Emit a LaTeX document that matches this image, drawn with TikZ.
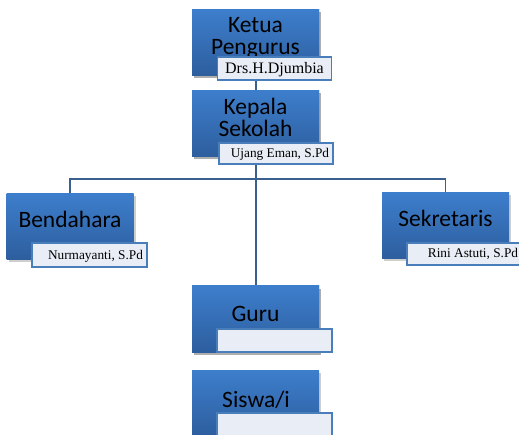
\documentclass[tikz,border=0pt]{standalone}
\usepackage{fontspec}
\newfontfamily\titlefont{Carlito}
\newfontfamily\namefont{Liberation Serif}
\usetikzlibrary{shadows}
\definecolor{boxtop}{HTML}{3D7ECC}
\definecolor{boxbot}{HTML}{2D5E9E}
\definecolor{lblfill}{HTML}{E9EEF6}
\definecolor{lbldraw}{HTML}{4A7EBB}
\definecolor{conn}{HTML}{3A6090}
\tikzset{
  orgbox/.style={rectangle, inner sep=0pt, minimum width=127pt, minimum height=66pt,
    top color=boxtop, bottom color=boxbot, draw=none,
    drop shadow={shadow xshift=2pt, shadow yshift=-3pt, opacity=0.35, fill=black!55}},
  lblbox/.style={rectangle, inner sep=0pt, minimum width=114pt, minimum height=22pt,
    fill=lblfill, draw=lbldraw, line width=1.5pt},
  ttl/.style={anchor=base, inner sep=0pt, font=\titlefont\fontsize{23.5}{22}\selectfont},
  nm/.style={anchor=base, inner sep=0pt, font=\namefont\fontsize{13.3}{14}\selectfont},
  connector/.style={draw=conn, line width=1.8pt}
}
\begin{document}
\begin{tikzpicture}[x=1pt,y=-1pt]
\useasboundingbox (0,0) rectangle (519,435);
% boxes
\node[orgbox] (ketua) at (255.5,42.5) {};
\node[orgbox] (kepala) at (255.5,123.5) {};
\node[orgbox] (bendahara) at (70,226.5) {};
\node[orgbox] (sekretaris) at (445.5,225.5) {};
\node[orgbox] (guru) at (255.5,319) {};
\node[orgbox] (siswa) at (255.5,403) {};
% connectors
\coordinate (j) at (256,179);
\draw[connector] ([xshift=0.5pt]ketua.south) -- ([xshift=0.5pt]kepala.north);
\draw[connector] ([xshift=0.5pt]kepala.south) -- ([xshift=0.5pt]guru.north);
\draw[connector] (bendahara.north) |- (j) -| (sekretaris.north);
% redraw boxes on top of connectors
\node[orgbox] at (255.5,42.5) {};
\node[orgbox] at (255.5,123.5) {};
\node[orgbox] at (255.5,319) {};
% titles
\node[ttl] (tketua) at (255.5,33) {Ketua};
\node[ttl] (tpeng) at (255.5,55) {Pengurus};
\node[ttl] (tkepala) at (255.5,115) {Kepala};
\node[ttl] (tsekolah) at (255.5,137) {Sekolah};
\node[ttl] (tbend) at (70,228) {Bendahara};
\node[ttl] (tsekr) at (445.5,227) {Sekretaris};
\node[ttl] (tguru) at (255.5,322) {Guru};
\node[ttl] (tsiswa) at (256,407) {Siswa/i};
% labels
\node[lblbox, minimum height=23pt] (lketua) at (274.5,68.5) {};
\node[lblbox, minimum height=21pt] (lkepala) at (276,153.5) {};
\node[lblbox, minimum height=24pt, minimum width=115pt] (lbend) at (89.5,255) {};
\node[lblbox, minimum width=115pt] (lsekr) at (464.5,254) {};
\node[lblbox, minimum height=23pt, minimum width=115pt] (lguru) at (274.5,340.5) {};
\node[lblbox, minimum height=23pt, minimum width=115pt] (lsiswa) at (274.5,424.5) {};
\node[nm, font=\namefont\fontsize{16}{16}\selectfont] at (274.5,74) {Drs.H.Djumbia};
\node[nm] at (280,158) {Ujang Eman, S.Pd};
\node[nm] at (95.5,260) {Nurmayanti, S.Pd};
\node[nm] at (473,258) {Rini Astuti, S.Pd};
\end{tikzpicture}
\end{document}
